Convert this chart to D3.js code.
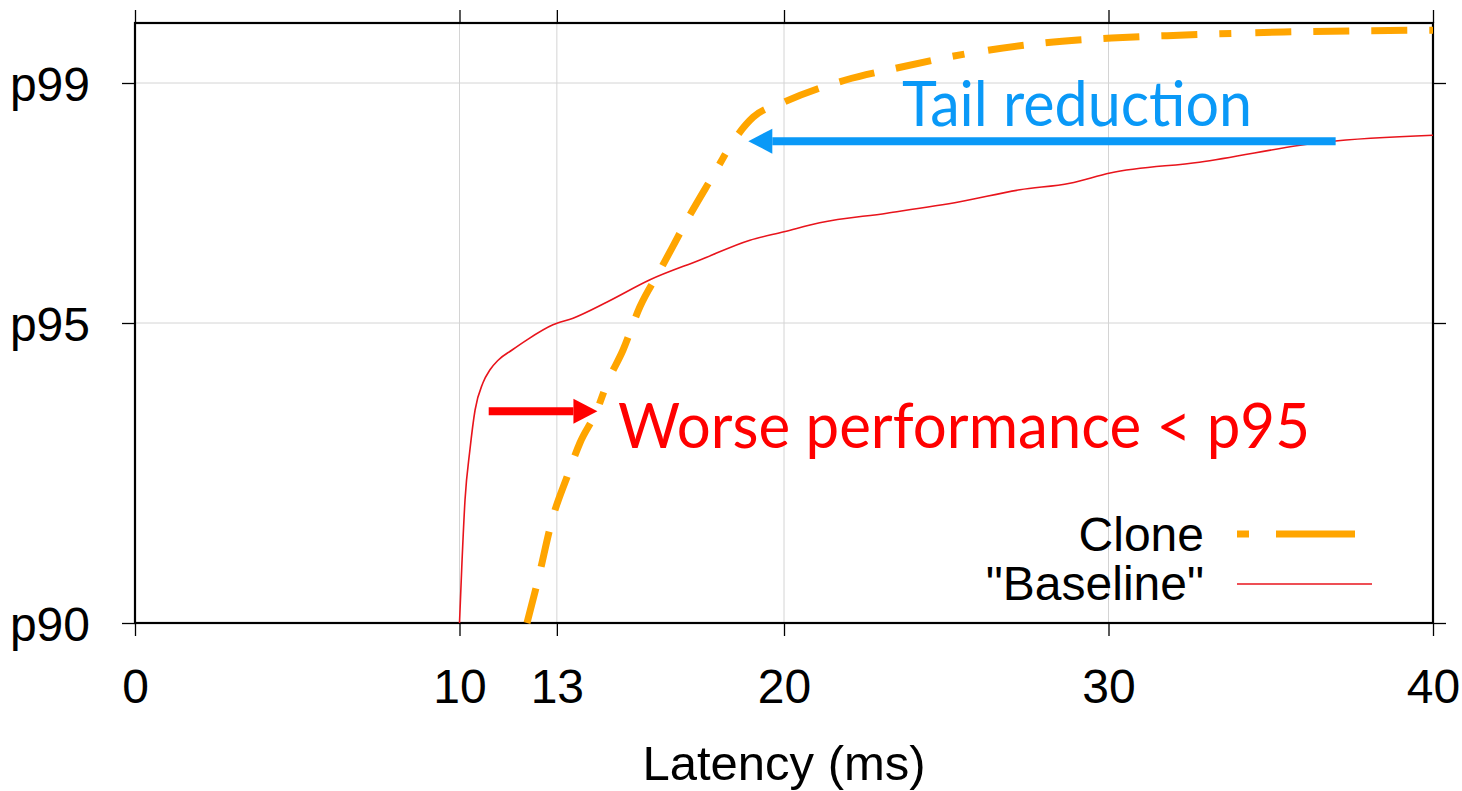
<!DOCTYPE html>
<html lang="en">
  <head>
    <meta charset="UTF-8" />
    <script src="https://d3js.org/d3.v7.min.js"></script>
    <title>Latency CDF</title>
    <style>
      body { margin: 0; background: #fff; }
      svg text { font-family: "Liberation Sans", Arial, sans-serif; }
    </style>
  </head>
  <body>
    <script>
      // latency (ms) vs percentile
      const baselineMs = [10.0, 10.07, 10.17, 10.32, 10.48, 10.72, 10.94, 11.19, 11.62, 12.08, 12.88, 13.5, 14.55, 15.87, 17.41, 18.95, 20.0, 21.1, 23.17, 25.42, 27.27, 28.81, 30.05, 32.8, 36.7, 40.0];
      const baselineP = [90.0, 90.93, 92.05, 92.88, 93.55, 94.0, 94.22, 94.38, 94.55, 94.72, 94.97, 95.08, 95.35, 95.72, 96.05, 96.38, 96.52, 96.67, 96.83, 97.02, 97.22, 97.33, 97.5, 97.68, 98.02, 98.13];
      const cloneMs = [12.08, 12.42, 12.88, 13.31, 13.71, 14.24, 14.55, 15.04, 15.56, 16.18, 17.1, 17.86, 18.4, 19.05, 19.95, 21.9, 23.48, 25.76, 28.04, 30.1, 32.36, 35.4, 40.0];
      const cloneP = [90.0, 90.72, 91.77, 92.43, 93.0, 93.55, 94.0, 94.55, 95.27, 95.88, 96.8, 97.5, 98.0, 98.43, 98.67, 99.05, 99.25, 99.5, 99.67, 99.75, 99.8, 99.85, 99.88];

      const xTicks = [0, 10, 13, 20, 30, 40];
      const yTicks = [90, 95, 99];
      const yTickLabels = ["p90", "p95", "p99"];
      const xGrid = [10, 13, 20, 30];
      const yGrid = [95, 99];

      // annotation arrows: [fromMs, toMs, percentile]
      const tailArrow = [37.0, 18.9, 98.03];
      const worseArrow = [10.9, 14.25, 93.53];

      const W = 1462, H = 791;
      const mLeft = 135, mRight = 1433, mTop = 23, mBottom = 623;

      const svg = d3.select("body").append("svg").attr("width", W).attr("height", H);

      const x = d3.scaleLinear().domain([0, 40]).range([mLeft, mRight]);
      const y = d3.scaleLinear().domain([90, 100]).range([mBottom, mTop]);

      // grid
      svg.append("g").selectAll("line").data(xGrid).enter().append("line")
        .attr("x1", d => x(d)).attr("x2", d => x(d))
        .attr("y1", mTop).attr("y2", mBottom)
        .attr("stroke", "#d4d4d4").attr("stroke-width", 1);
      svg.append("g").selectAll("line").data(yGrid).enter().append("line")
        .attr("x1", mLeft).attr("x2", mRight)
        .attr("y1", d => y(d)).attr("y2", d => y(d))
        .attr("stroke", "#d4d4d4").attr("stroke-width", 1);

      // axes
      const fmtY = d => yTickLabels[yTicks.indexOf(d)];
      const styleAxis = g => {
        g.select(".domain").remove();
        g.selectAll(".tick line").attr("stroke", "#000").attr("stroke-width", 1.3);
        g.selectAll(".tick text").attr("fill", "#000").style("font-size", "48px")
          .style("font-family", "'Liberation Sans', Arial, sans-serif");
      };
      svg.append("g").attr("transform", `translate(0,${mBottom})`)
        .call(d3.axisBottom(x).tickValues(xTicks).tickSize(13).tickPadding(33))
        .call(styleAxis);
      svg.append("g").attr("transform", `translate(0,${mTop})`)
        .call(d3.axisTop(x).tickValues(xTicks).tickSize(13).tickFormat(""))
        .call(styleAxis);
      svg.append("g").attr("transform", `translate(${mLeft},0)`)
        .call(d3.axisLeft(y).tickValues(yTicks).tickSize(13).tickPadding(32).tickFormat(fmtY))
        .call(styleAxis)
        .selectAll(".tick text").attr("dy", "0.36em");
      svg.append("g").attr("transform", `translate(${mRight},0)`)
        .call(d3.axisRight(y).tickValues(yTicks).tickSize(13).tickFormat(""))
        .call(styleAxis);

      // frame
      svg.append("rect")
        .attr("x", mLeft).attr("y", mTop)
        .attr("width", mRight - mLeft).attr("height", mBottom - mTop)
        .attr("fill", "none").attr("stroke", "#000").attr("stroke-width", 2.2);

      const line = d3.line().curve(d3.curveMonotoneX).x(d => x(d[0])).y(d => y(d[1]));
      const baseline = baselineMs.map((m, i) => [m, baselineP[i]]);
      const clone = cloneMs.map((m, i) => [m, cloneP[i]]);

      svg.append("path").datum(baseline).attr("d", line)
        .attr("fill", "none").attr("stroke", "#e8141c").attr("stroke-width", 1.6);
      svg.append("path").datum(clone).attr("d", line)
        .attr("fill", "none").attr("stroke", "#ffa500").attr("stroke-width", 7)
        .attr("stroke-dasharray", "36,22,36,22,36,22,36,22,12,24");

      // legend
      const legend = svg.append("g");
      legend.append("text").attr("x", 1204).attr("y", 551).attr("text-anchor", "end")
        .style("font-size", "48px").text("Clone");
      legend.append("text").attr("x", 1204).attr("y", 600).attr("text-anchor", "end")
        .style("font-size", "48px").text('"Baseline"');
      legend.append("line").attr("x1", 1237).attr("x2", 1355).attr("y1", 534).attr("y2", 534)
        .attr("stroke", "#ffa500").attr("stroke-width", 7).attr("stroke-dasharray", "12,27,79");
      legend.append("line").attr("x1", 1237).attr("x2", 1372).attr("y1", 584).attr("y2", 584)
        .attr("stroke", "#e8141c").attr("stroke-width", 1.6);

      // annotations
      function arrow(a, color) {
        const x0 = x(a[0]), x1 = x(a[1]), yy = y(a[2]);
        const dir = x1 > x0 ? 1 : -1;
        const head = 24;
        svg.append("line").attr("x1", x0).attr("x2", x1 - dir * head)
          .attr("y1", yy).attr("y2", yy)
          .attr("stroke", color).attr("stroke-width", 8);
        svg.append("path")
          .attr("d", `M${x1},${yy} L${x1 - dir * head},${yy - 12.5} L${x1 - dir * head},${yy + 12.5} Z`)
          .attr("fill", color);
      }
      arrow(tailArrow, "#0a99f7");
      arrow(worseArrow, "#ff0000");

      svg.append("text").attr("x", 902).attr("y", 126)
        .style("font-family", "Lato, 'Open Sans', sans-serif").style("font-size", "61px")
        .attr("fill", "#0a99f7").attr("textLength", 350).attr("lengthAdjust", "spacingAndGlyphs")
        .text("Tail reduction");
      svg.append("text").attr("x", 618).attr("y", 448)
        .style("font-family", "Lato, 'Open Sans', sans-serif").style("font-size", "62px")
        .attr("fill", "#ff0000").attr("textLength", 692).attr("lengthAdjust", "spacingAndGlyphs")
        .text("Worse performance < p95");

      svg.append("text").attr("x", x(20)).attr("y", 780).attr("text-anchor", "middle")
        .style("font-size", "49px").text("Latency (ms)");
    </script>
  </body>
</html>
